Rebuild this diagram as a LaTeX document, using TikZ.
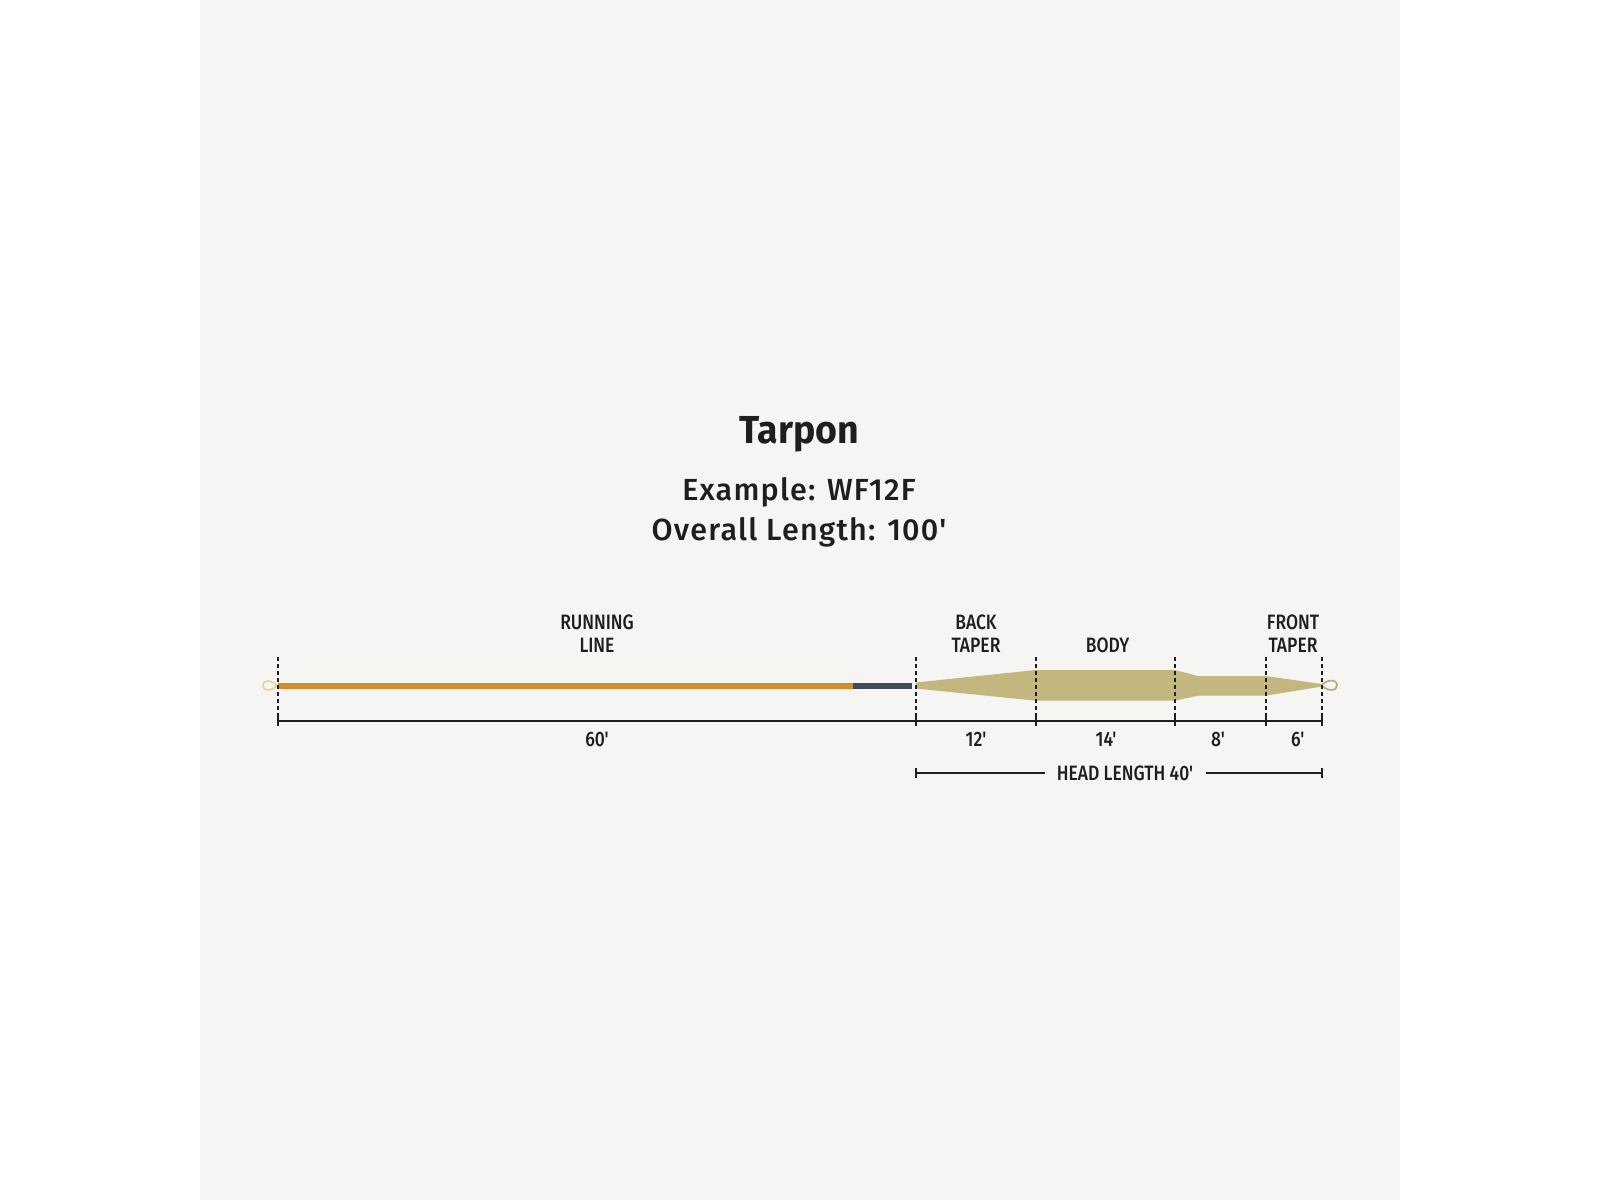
\documentclass[tikz,border=0pt]{standalone}
\usepackage{fontspec}
\usetikzlibrary{calc}
\newfontfamily\labfont[FakeStretch=0.84]{Fira Sans Medium}
\newfontfamily\subfont[FakeStretch=1.0, LetterSpace=4]{Fira Sans Medium}
\newfontfamily\ttlfont[FakeStretch=0.96]{Fira Sans}
\definecolor{panel}{HTML}{F5F5F3}
\definecolor{ink}{HTML}{1E1E1E}
\definecolor{runorange}{HTML}{D08E2F}
\definecolor{navy}{HTML}{3E4A60}
\definecolor{olive}{HTML}{C2B87F}
\definecolor{loopyel}{HTML}{E2D68F}
\definecolor{loopol}{HTML}{B5AC6E}
\begin{document}
\begin{tikzpicture}[x=1pt,y=-1pt,
  lbl/.style={inner sep=0pt, text=ink, align=center, font=\labfont\fontsize{20.8}{23}\selectfont},
  dim/.style={inner sep=0pt, text=ink, anchor=base, font=\labfont\fontsize{20.8}{23}\selectfont},
  subt/.style={inner sep=0pt, anchor=base, text=ink, font=\subfont\fontsize{30.5}{36}\selectfont},
  guide/.style={ink, line width=2.2pt, dash pattern=on 3.5pt off 3.5pt},
  ruler/.style={ink, line width=2pt},
  tick/.style={ink, line width=2pt}]
\useasboundingbox (0,0) rectangle (1600,1200);
\fill[white] (0,0) rectangle (1600,1200);
\fill[panel] (200,0) rectangle (1400,1200);

% titles
\node[inner sep=0pt, anchor=base, text=ink, font=\ttlfont\bfseries\fontsize{39}{44}\selectfont] (title) at (799,443.3) {Tarpon};
\node[subt] (example) at (799,500) {Example: WF12F};
\node[subt] (overall) at (799,540) {Overall Length: 100'};

% guide coordinates
\foreach \n/\x in {a/277.7, b/915.7, c/1035.7, d/1175, e/1265.7, f/1321.7} {
  \coordinate (g\n-t) at (\x,657);
  \coordinate (g\n-b) at (\x,721);
}

% line
\draw[runorange, line width=6pt] (277.7,685.5) coordinate (runL) -- (853,685.5) coordinate (runR);
\draw[navy, line width=6pt] (runR) -- (912,685.5) coordinate (navyR);
\fill[olive] (915.7,682.5) -- (1035.7,670) -- (1175,670) -- (1198,676) -- (1265.7,676)
  -- (1321.7,684) -- (1321.7,686.5) -- (1265.7,695.7) -- (1198,695.7) -- (1175,700.7)
  -- (1035.7,700.7) -- (915.7,688.5) -- cycle;
\draw[loopyel, line width=1.6pt] (277,685.5) .. controls (270,679) and (263,680) .. (263,685.5)
  .. controls (263,691) and (270,692) .. (277,685.5);
\draw[loopol, line width=1.6pt] (1321.7,685.3) .. controls (1327,679) and (1337,679) .. (1337,685.3)
  .. controls (1337,691.5) and (1327,691.5) .. (1321.7,685.3);

% dotted guides
\foreach \n in {a,b,c,d,e,f} { \draw[guide] (g\n-t) -- (g\n-b); }

% ruler
\draw[ruler] (ga-b) -- (gf-b);
\foreach \n in {a,b,c,d,e,f} { \draw[tick] ($(g\n-b)+(0,-5)$) -- ($(g\n-b)+(0,5)$); }

% labels
\node[lbl, anchor=north] (running) at (597,615) {RUNNING\\LINE};
\node[lbl, anchor=north] (back) at (976,615) {BACK\\TAPER};
\node[lbl, anchor=north] (body) at (1107.7,637.7) {BODY};
\node[lbl, anchor=north] (front) at (1293,615) {FRONT\\TAPER};

\node[dim] (d60) at (597,746.7) {60'};
\node[dim] (d12) at (976,746.7) {12'};
\node[dim] (d14) at (1106,746.7) {14'};
\node[dim] (d8) at (1218,746.7) {8'};
\node[dim] (d6) at (1297.7,746.7) {6'};

% head length
\node[dim] (head) at (1125,780) {HEAD LENGTH 40'};
\coordinate (hL) at (915.7,773.3);
\coordinate (hR) at (1321.7,773.3);
\draw[ruler] (hL) -- (1045,773.3) coordinate (hgL);
\draw[ruler] (1206,773.3) coordinate (hgR) -- (hR);
\draw[tick] ($(hL)+(0,-5)$) -- ($(hL)+(0,5)$);
\draw[tick] ($(hR)+(0,-5)$) -- ($(hR)+(0,5)$);
\end{tikzpicture}
\end{document}
